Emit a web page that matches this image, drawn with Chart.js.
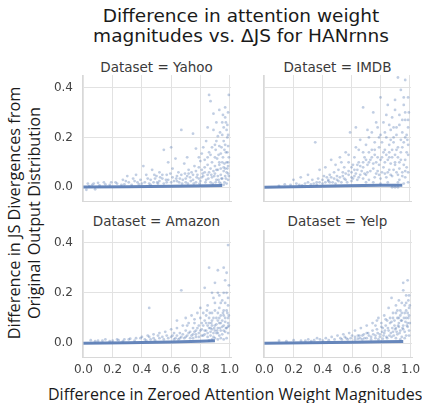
<!DOCTYPE html>
<html>
<head>
<meta charset="utf-8">
<script src="https://cdn.jsdelivr.net/npm/chart.js@4.4.0/dist/chart.umd.min.js"></script>
<style>
  body { margin: 0; background: #fff; width: 422px; height: 403px; overflow: hidden; position: relative; }
  canvas { position: absolute; }
  .txt { position: absolute; white-space: nowrap; }
  #title { left: 0; width: 482px; top: 6px; text-align: center; font: 18.5px "DejaVu Sans"; color: #1a1a1a; line-height: 20px; }
  .facet { font: 13.5px "DejaVu Sans"; color: #3a3a3a; text-align: center; width: 149px; top: 59px; }
  #xtitle { left: 48px; top: 383px; font: 16px "Open Sans"; color: #1a1a1a; }
  #ytitle { left: 23.5px; top: 213px; font: 16.3px "Open Sans"; color: #1a1a1a; text-align: center; line-height: 19.5px;
            transform: translate(-50%, -50%) rotate(-90deg); }
</style>
</head>
<body>
<div id="title" class="txt">Difference in attention weight<br>magnitudes vs. ΔJS for HANrnns</div>
<div class="txt facet" style="left:82px">Dataset = Yahoo</div>
<div class="txt facet" style="left:263px">Dataset = IMDB</div>
<div class="txt facet" style="left:82px; top:213px">Dataset = Amazon</div>
<div class="txt facet" style="left:263px; top:213px">Dataset = Yelp</div>
<div id="xtitle" class="txt">Difference in Zeroed Attention Weight Magnitudes</div>
<div id="ytitle" class="txt">Difference in JS Divergences from<br>Original Output Distribution</div>

<canvas id="yahoo" width="235" height="135" style="left:0; top:70px"></canvas>
<canvas id="imdb" width="180" height="135" style="left:235px; top:70px"></canvas>
<canvas id="amazon" width="246" height="165" style="left:0; top:225px"></canvas>
<canvas id="yelp" width="187" height="165" style="left:235px; top:225px"></canvas>

<script>
const xTicks = [0, 0.2, 0.4, 0.6, 0.8, 1.0];
const yTicks = [0, 0.2, 0.4];

// dense band of points sitting near zero, read as a thick trace
const yahooBand = [[0, 0.001], [0.3, 0.002], [0.6, 0.004], [0.85, 0.006], [0.95, 0.007]];
const imdbBand = [[0, 0.0], [0.3, 0.003], [0.56, 0.006], [0.8, 0.008], [0.95, 0.008]];
const amazonBand = [[0, 0.0], [0.3, 0.002], [0.6, 0.005], [0.8, 0.008], [0.9, 0.01]];
const yelpBand = [[0, 0.0], [0.3, 0.002], [0.6, 0.004], [0.8, 0.006], [0.95, 0.007]];

const yahooPts = [
  [0.86,0.37],[0.87,0.345],[0.995,0.37],[0.93,0.31],[0.97,0.28],[0.89,0.295],[0.89,0.23],[0.67,0.23],
  [0.75,0.215],[0.55,0.15],[0.95,0.26],[0.98,0.23],[0.92,0.205],[0.96,0.185],[0.84,0.185],[0.99,0.165],
  [0.905,0.15],[0.94,0.135],[0.81,0.135],[0.77,0.155],[0.71,0.12],[0.63,0.115],[0.58,0.10],[0.41,0.085],
  [0.47,0.07],[0.52,0.06],[0.36,0.05],[0.30,0.045],[0.97,0.32],[0.99,0.30],[0.91,0.26],[0.95,0.21],
  [0.985,0.2],[0.975,0.14],[0.955,0.12],[0.93,0.1],[0.965,0.095],[0.99,0.085],[0.9,0.12],[0.88,0.1],
  [0.86,0.14],[0.83,0.08],[0.8,0.105],[0.76,0.085],[0.72,0.07],[0.69,0.095],[0.65,0.06],[0.61,0.075],
  [0.57,0.05],[0.54,0.035],[0.5,0.045],[0.46,0.03],[0.43,0.05],[0.39,0.03],[0.35,0.025],[0.31,0.02],
  [0.27,0.03],[0.23,0.015],[0.19,0.02],[0.15,0.012],[0.1,0.018],[0.06,0.01],[0.03,0.015],[0.02,-0.01],
  [0.08,-0.008],[0.62,0.025],[0.66,0.035],[0.7,0.02],[0.73,0.04],[0.75,0.03],[0.78,0.05],[0.8,0.025],
  [0.82,0.045],[0.84,0.03],[0.86,0.06],[0.87,0.02],[0.88,0.04],[0.9,0.055],[0.91,0.03],[0.92,0.07],
  [0.93,0.02],[0.94,0.05],[0.95,0.035],[0.96,0.065],[0.97,0.045],[0.98,0.06],[0.99,0.03],[0.995,0.12],
  [0.98,0.1],[0.96,0.08],[0.94,0.075],[0.92,0.045],[0.9,0.085],[0.89,0.065],[0.87,0.075],[0.85,0.05],
  [0.83,0.06],[0.81,0.04],[0.79,0.035],[0.77,0.02],[0.74,0.06],[0.71,0.045],[0.68,0.03],[0.64,0.045],
  [0.6,0.02],[0.58,0.03],[0.55,0.015],[0.52,0.025],[0.48,0.02],[0.45,0.015],[0.42,0.02],[0.38,0.012],
  [0.33,0.01],[0.28,0.012],[0.98,0.015],[0.96,0.01],[0.94,0.015],[0.97,0.17],[0.93,0.165],[0.91,0.185],
  [0.985,0.25],[0.96,0.24],[0.88,0.16],[0.85,0.12],[0.99,0.055],[0.975,0.035],
  [0.91,0.07],[0.93,0.09],[0.95,0.1],[0.97,0.075],[0.99,0.1],[0.985,0.14],[0.965,0.15],[0.945,0.16],
  [0.925,0.13],[0.9,0.17],[0.87,0.13],[0.85,0.09],[0.83,0.11],[0.81,0.07],[0.79,0.08],[0.77,0.065],
  [0.75,0.05],[0.72,0.055],[0.7,0.035],[0.67,0.05],[0.64,0.025],[0.61,0.04],[0.57,0.02],[0.54,0.05],
  [0.51,0.015],[0.49,0.035],[0.46,0.01],[0.44,0.035],[0.4,0.015],[0.37,0.02],[0.34,0.035],[0.29,0.025],
  [0.26,0.01],[0.22,0.02],[0.18,0.01],[0.14,0.02],[0.11,0.008],[0.07,0.015],[0.04,0.005],[0.99,0.21],
  [0.975,0.26],[0.955,0.29],[0.935,0.22],[0.915,0.115],[0.895,0.045],[0.875,0.05],[0.855,0.035],[0.835,0.02],
  [0.815,0.055],[0.795,0.015],[0.775,0.04],[0.755,0.015],[0.735,0.025],[0.715,0.015],[0.695,0.055],[0.675,0.015],
  [0.655,0.02],[0.635,0.035],[0.595,0.055],[0.565,0.03],[0.525,0.04],[0.505,0.02],[0.485,0.05],[0.995,0.045],
  [0.985,0.075],[0.965,0.02],[0.945,0.035],[0.925,0.03],[0.905,0.02],[0.885,0.015],[0.6,0.16],[0.82,0.16],
  [0.79,0.12],[0.85,0.24]
];

const imdbPts = [
  [0.92,0.44],[0.97,0.43],[0.80,0.36],[0.68,0.32],[0.75,0.30],[0.995,0.30],[0.35,0.18],[0.59,0.22],
  [0.85,0.33],[0.9,0.35],[0.94,0.39],[0.99,0.36],[0.96,0.33],[0.88,0.28],[0.82,0.26],[0.78,0.24],
  [0.72,0.2],[0.66,0.19],[0.63,0.16],[0.56,0.14],[0.52,0.12],[0.46,0.11],[0.42,0.08],[0.38,0.07],
  [0.3,0.05],[0.25,0.04],[0.2,0.03],[0.93,0.25],[0.97,0.27],[0.99,0.24],[0.95,0.22],[0.91,0.21],
  [0.87,0.23],[0.84,0.2],[0.8,0.21],[0.76,0.18],[0.7,0.17],[0.74,0.15],[0.79,0.16],[0.83,0.15],
  [0.86,0.17],[0.89,0.18],[0.92,0.16],[0.96,0.18],[0.985,0.19],[0.94,0.14],[0.9,0.13],[0.88,0.12],
  [0.85,0.11],[0.81,0.12],[0.77,0.1],[0.73,0.11],[0.69,0.12],[0.65,0.1],[0.61,0.09],[0.58,0.1],
  [0.55,0.08],[0.51,0.07],[0.48,0.06],[0.45,0.05],[0.41,0.045],[0.37,0.035],[0.33,0.03],[0.6,0.06],
  [0.64,0.07],[0.68,0.08],[0.71,0.06],[0.75,0.075],[0.78,0.065],[0.82,0.08],[0.86,0.07],[0.9,0.09],
  [0.93,0.1],[0.97,0.11],[0.99,0.13],[0.98,0.08],[0.95,0.06],[0.92,0.05],[0.88,0.045],[0.84,0.04],
  [0.8,0.035],[0.76,0.04],[0.72,0.03],[0.68,0.035],[0.64,0.03],[0.6,0.025],[0.56,0.03],[0.53,0.02],
  [0.5,0.03],[0.47,0.02],[0.44,0.025],[0.4,0.015],[0.36,0.02],[0.32,0.012],[0.28,0.015],[0.24,0.01],
  [0.99,0.02],[0.96,0.015],[0.88,0.0],[0.9,0.0],[0.92,0.0],[0.7,0.05],[0.66,0.05],[0.62,0.045],
  [0.58,0.05],[0.54,0.045],[0.86,0.14],[0.91,0.15],[0.95,0.16],[0.98,0.21],[0.76,0.13],[0.72,0.14],
  [0.68,0.14],[0.81,0.18],[0.74,0.22],[0.86,0.25],[0.93,0.29],[0.97,0.2],[0.99,0.17],[0.94,0.19],
  [0.89,0.2],[0.99,0.06],[0.97,0.04],[0.93,0.075],[0.87,0.095],[0.83,0.1],[0.79,0.09],[0.75,0.095],
  [0.71,0.09],[0.67,0.065],[0.63,0.055],[0.6,0.04],
  [0.98,0.14],[0.96,0.09],[0.94,0.11],[0.92,0.12],[0.9,0.1],[0.88,0.15],[0.86,0.12],[0.84,0.13],
  [0.82,0.14],[0.8,0.11],[0.78,0.12],[0.76,0.15],[0.74,0.12],[0.72,0.1],[0.7,0.11],[0.68,0.1],
  [0.66,0.085],[0.64,0.09],[0.62,0.07],[0.6,0.08],[0.58,0.065],[0.56,0.055],[0.54,0.06],[0.52,0.04],
  [0.5,0.045],[0.48,0.035],[0.46,0.04],[0.44,0.03],[0.42,0.02],[0.4,0.03],[0.38,0.02],[0.36,0.01],
  [0.34,0.015],[0.3,0.02],[0.26,0.008],[0.22,0.015],[0.18,0.01],[0.14,0.012],[0.1,0.006],[0.97,0.065],
  [0.95,0.045],[0.93,0.03],[0.91,0.06],[0.89,0.07],[0.87,0.05],[0.85,0.06],[0.83,0.055],[0.81,0.06],
  [0.79,0.05],[0.77,0.055],[0.73,0.065],[0.69,0.055],[0.65,0.04],[0.61,0.035],[0.57,0.02],[0.55,0.035],
  [0.51,0.025],[0.49,0.015],[0.45,0.02],[0.43,0.04],[0.99,0.27],[0.97,0.3],[0.95,0.27],[0.91,0.24],
  [0.89,0.24],[0.87,0.19],[0.83,0.22],[0.79,0.2],[0.77,0.26],[0.71,0.23],[0.65,0.15],[0.62,0.12],
  [0.58,0.13],[0.53,0.1],[0.49,0.09],[0.84,0.29],[0.9,0.31],[0.96,0.36],[0.63,0.24],[0.92,0.02],
  [0.85,0.02],[0.8,0.015],[0.75,0.02],[0.7,0.02]
];

const amazonPts = [
  [0.99,0.39],[0.86,0.30],[0.92,0.29],[0.96,0.30],[0.67,0.21],[0.45,0.14],[0.995,0.23],[0.97,0.25],
  [0.9,0.24],[0.83,0.22],[0.88,0.2],[0.93,0.19],[0.98,0.2],[0.95,0.17],[0.9,0.16],[0.85,0.15],
  [0.8,0.14],[0.99,0.15],[0.96,0.13],[0.92,0.12],[0.88,0.12],[0.84,0.11],[0.8,0.1],[0.76,0.095],
  [0.72,0.08],[0.68,0.07],[0.64,0.06],[0.6,0.055],[0.56,0.045],[0.52,0.04],[0.48,0.035],[0.44,0.03],
  [0.4,0.025],[0.36,0.02],[0.32,0.018],[0.28,0.015],[0.24,0.012],[0.2,0.01],[0.15,0.015],[0.1,0.01],
  [0.05,0.012],[0.82,0.07],[0.84,0.05],[0.86,0.08],[0.87,0.06],[0.88,0.09],[0.89,0.04],[0.9,0.07],
  [0.91,0.1],[0.92,0.06],[0.93,0.08],[0.94,0.05],[0.95,0.09],[0.96,0.07],[0.97,0.1],[0.98,0.06],
  [0.99,0.08],[0.995,0.11],[0.985,0.12],[0.97,0.045],[0.95,0.035],[0.93,0.03],[0.91,0.04],[0.89,0.025],
  [0.87,0.03],[0.85,0.025],[0.83,0.035],[0.81,0.03],[0.79,0.04],[0.77,0.025],[0.75,0.035],[0.73,0.02],
  [0.71,0.03],[0.69,0.02],[0.67,0.025],[0.65,0.015],[0.63,0.02],[0.61,0.03],[0.58,0.02],[0.55,0.015],
  [0.52,0.02],[0.49,0.012],[0.46,0.015],[0.43,0.01],[0.98,0.02],[0.96,0.015],[0.94,0.02],[0.92,0.015],
  [0.9,0.02],[0.88,0.015],[0.86,0.01],[0.99,0.04],[0.94,0.11],[0.9,0.13],[0.86,0.1],[0.83,0.09],
  [0.79,0.07],[0.75,0.06],[0.7,0.05],[0.66,0.04],[0.62,0.04],[0.97,0.16],[0.93,0.14],[0.99,0.18],
  [0.78,0.12],[0.74,0.11],[0.7,0.1],[0.88,0.055],[0.92,0.09],[0.96,0.05],[0.99,0.065],[0.85,0.07],
  [0.81,0.055],[0.77,0.05],[0.73,0.045],
  [0.99,0.1],[0.98,0.13],[0.97,0.085],[0.96,0.11],[0.95,0.065],[0.94,0.08],[0.93,0.1],[0.92,0.04],
  [0.91,0.075],[0.9,0.05],[0.89,0.1],[0.88,0.07],[0.87,0.045],[0.86,0.06],[0.85,0.04],[0.84,0.08],
  [0.83,0.05],[0.82,0.03],[0.81,0.08],[0.8,0.05],[0.79,0.025],[0.78,0.06],[0.77,0.035],[0.76,0.045],
  [0.75,0.02],[0.74,0.03],[0.72,0.04],[0.7,0.025],[0.68,0.035],[0.66,0.02],[0.64,0.03],[0.62,0.015],
  [0.6,0.025],[0.57,0.03],[0.54,0.025],[0.51,0.03],[0.48,0.02],[0.45,0.025],[0.42,0.015],[0.39,0.02],
  [0.35,0.01],[0.31,0.015],[0.27,0.008],[0.23,0.015],[0.18,0.008],[0.13,0.01],[0.08,0.008],[0.995,0.07],
  [0.975,0.06],[0.955,0.12],[0.935,0.06],[0.915,0.05],[0.895,0.06],[0.875,0.08],[0.865,0.12],[0.845,0.13],
  [0.96,0.2],[0.94,0.16],[0.92,0.2],[0.98,0.28],[0.89,0.18],[0.82,0.12],[0.76,0.08],[0.71,0.07],
  [0.64,0.09]
];

const yelpPts = [
  [0.98,0.25],[0.95,0.24],[0.95,0.21],[0.87,0.18],[0.92,0.17],[0.99,0.19],[0.97,0.16],[0.9,0.15],
  [0.85,0.14],[0.93,0.13],[0.99,0.14],[0.96,0.12],[0.88,0.12],[0.82,0.11],[0.78,0.1],[0.74,0.08],
  [0.7,0.07],[0.66,0.06],[0.62,0.05],[0.58,0.04],[0.54,0.035],[0.5,0.03],[0.46,0.025],[0.42,0.02],
  [0.38,0.015],[0.34,0.012],[0.3,0.015],[0.25,0.01],[0.2,0.012],[0.15,0.008],[0.1,0.01],[0.91,0.1],
  [0.94,0.09],[0.97,0.1],[0.99,0.11],[0.98,0.08],[0.95,0.07],[0.92,0.08],[0.89,0.09],[0.86,0.08],
  [0.83,0.07],[0.8,0.065],[0.77,0.055],[0.74,0.05],[0.71,0.04],[0.68,0.035],[0.65,0.03],[0.62,0.025],
  [0.59,0.02],[0.56,0.02],[0.53,0.015],[0.9,0.06],[0.93,0.05],[0.96,0.045],[0.99,0.05],[0.97,0.03],
  [0.94,0.025],[0.91,0.035],[0.88,0.045],[0.85,0.05],[0.82,0.04],[0.79,0.035],[0.76,0.03],[0.73,0.025],
  [0.7,0.02],[0.67,0.015],[0.64,0.018],[0.87,0.025],[0.84,0.02],[0.81,0.018],[0.78,0.015],[0.99,0.03],
  [0.96,0.02],[0.93,0.015],[0.9,0.02],[0.98,0.065],[0.95,0.055],[0.92,0.065],[0.89,0.07],[0.86,0.1],
  [0.93,0.11],[0.97,0.13],[0.9,0.12],[0.84,0.09],[0.8,0.08],[0.76,0.07],
  [0.995,0.08],[0.985,0.1],[0.975,0.07],[0.965,0.085],[0.955,0.1],[0.945,0.06],[0.935,0.09],[0.925,0.04],
  [0.915,0.07],[0.905,0.045],[0.895,0.055],[0.885,0.03],[0.875,0.06],[0.865,0.04],[0.855,0.03],[0.845,0.06],
  [0.835,0.025],[0.825,0.05],[0.815,0.03],[0.805,0.045],[0.79,0.025],[0.775,0.04],[0.76,0.02],[0.745,0.035],
  [0.73,0.015],[0.715,0.03],[0.7,0.04],[0.685,0.02],[0.67,0.03],[0.655,0.02],[0.64,0.03],[0.62,0.015],
  [0.6,0.03],[0.57,0.015],[0.55,0.025],[0.52,0.02],[0.48,0.015],[0.44,0.012],[0.4,0.01],[0.36,0.02],
  [0.32,0.008],[0.28,0.01],[0.995,0.15],[0.98,0.12],[0.96,0.15],[0.94,0.12],[0.92,0.1],[0.88,0.1],
  [0.91,0.13],[0.97,0.19],[0.985,0.17],[0.94,0.16],[0.87,0.085],[0.83,0.095],[0.81,0.06],[0.77,0.09]
];

const blue = "76,114,176";
const toXY = arr => arr.map(p => ({ x: p[0], y: p[1] }));

function makePanel(id, pts, band, showX, showY, yWidth, xHeight, padRight) {
  new Chart(document.getElementById(id), {
    type: "scatter",
    data: {
      datasets: [
        {
          data: toXY(band),
          showLine: true,
          borderColor: `rgba(${blue},0.85)`,
          borderWidth: 3,
          pointRadius: 0,
          order: 0
        },
        {
          data: toXY(pts),
          backgroundColor: `rgba(${blue},0.35)`,
          borderWidth: 0,
          pointRadius: 1.4,
          order: 1
        }
      ]
    },
    options: {
      responsive: false,
      animation: false,
      layout: { padding: { top: 5, right: padRight, bottom: 0, left: 0 } },
      plugins: { legend: { display: false }, tooltip: { enabled: false } },
      scales: {
        x: {
          type: "linear",
          min: -0.01,
          max: 1.01,
          afterBuildTicks: s => { s.ticks = xTicks.map(v => ({ value: v })); },
          afterFit: s => { s.height = xHeight; s.paddingLeft = 0; s.paddingRight = 0; },
          ticks: {
            padding: 6,
            color: "#444",
            font: { family: "DejaVu Sans", size: 12 },
            callback: v => showX ? v.toFixed(1) : ""
          },
          grid: { color: "#e2e2e2", drawTicks: false },
          border: { display: true, color: "#d8d8d8" }
        },
        y: {
          type: "linear",
          min: -0.055,
          max: 0.45,
          afterBuildTicks: s => { s.ticks = yTicks.map(v => ({ value: v })); },
          afterFit: s => { s.width = yWidth; s.paddingTop = 0; s.paddingBottom = 0; },
          ticks: {
            padding: 9,
            color: "#444",
            font: { family: "DejaVu Sans", size: 12 },
            callback: v => showY ? v.toFixed(1) : ""
          },
          grid: { color: "#e2e2e2", drawTicks: false },
          border: { display: true, color: "#d8d8d8" }
        }
      }
    }
  });
}

makePanel("yahoo", yahooPts, yahooBand, false, true, 82, 3, 4);
makePanel("imdb", imdbPts, imdbBand, false, false, 28, 3, 3);
makePanel("amazon", amazonPts, amazonBand, true, true, 82, 33, 15);
makePanel("yelp", yelpPts, yelpBand, true, false, 28, 33, 10);
</script>
</body>
</html>
